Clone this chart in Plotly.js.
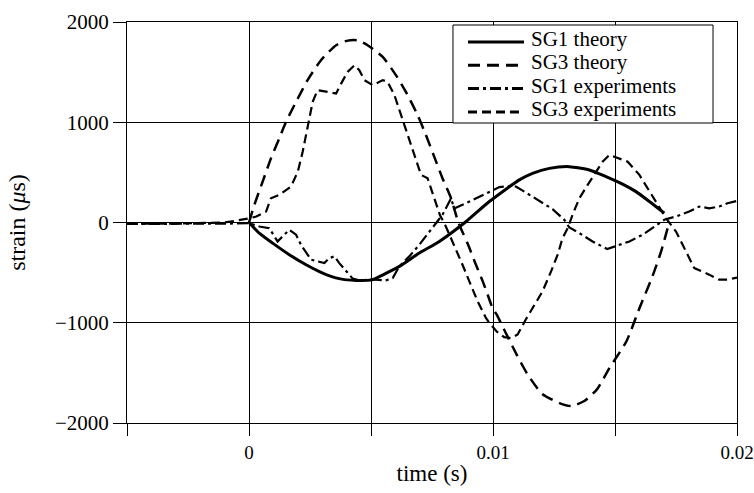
<!DOCTYPE html>
<html>
<head>
<meta charset="utf-8">
<script src="https://cdn.plot.ly/plotly-3.0.1.min.js"></script>
<style>html,body{margin:0;padding:0;background:#fff;}</style>
</head>
<body>
<div id="chart" style="width:754px;height:493px;"></div>
<script>
// ---- data (time in s, strain in microstrain) ----
const sg1TheoryT = [0, 0.00042, 0.00097, 0.00165, 0.00234, 0.00302, 0.0037, 0.00439, 0.00507, 0.00534, 0.00575, 0.00616, 0.00698, 0.0078, 0.0089, 0.00985, 0.01108, 0.01162, 0.01231, 0.01313, 0.01395, 0.01463, 0.01531, 0.01586, 0.01641, 0.01702];
const sg1TheoryV = [0, -106, -206, -321, -421, -504, -560, -578, -570, -540, -490, -438, -305, -189, 10, 209, 425, 490, 540, 557, 524, 458, 383, 308, 209, 93];

const sg3TheoryT = [0, 0.00022, 0.00056, 0.0009, 0.00124, 0.00152, 0.002, 0.0024, 0.00295, 0.00357, 0.004, 0.00445, 0.00486, 0.00548, 0.00602, 0.00643, 0.00691, 0.00725, 0.00759, 0.00793, 0.00828, 0.00858, 0.00896, 0.0093, 0.00958, 0.00978, 0.00998, 0.01014, 0.01055, 0.01096, 0.01141, 0.01202, 0.01272, 0.01321, 0.01374, 0.01427, 0.01477, 0.01547, 0.016, 0.01653, 0.0169, 0.01722];
const sg3TheoryV = [0, 176, 408, 640, 839, 1005, 1237, 1420, 1619, 1768, 1812, 1818, 1768, 1652, 1470, 1303, 1072, 873, 657, 441, 242, 0, -210, -421, -587, -719, -853, -915, -1114, -1313, -1512, -1711, -1801, -1831, -1781, -1662, -1453, -1184, -856, -540, -280, 0];

const sg1ExpT = [-0.005, -0.0045, -0.004, -0.0035, -0.003, -0.0025, -0.002, -0.0015, -0.001, -0.0005, 0, 0.00042, 0.00083, 0.00117, 0.00165, 0.00193, 0.00213, 0.00234, 0.00254, 0.00281, 0.00309, 0.00329, 0.0035, 0.0037, 0.00398, 0.00425, 0.00452, 0.00505, 0.00561, 0.00589, 0.00616, 0.00657, 0.00698, 0.00731, 0.00764, 0.00793, 0.00828, 0.00841, 0.00875, 0.0093, 0.00985, 0.01026, 0.01067, 0.01094, 0.01135, 0.0119, 0.01244, 0.01292, 0.01313, 0.01354, 0.01408, 0.01468, 0.01518, 0.01559, 0.01613, 0.01654, 0.01702, 0.0175, 0.01804, 0.01845, 0.01886, 0.01927, 0.01961, 0.02];
const sg1ExpV = [-15, -15, -12, -15, -13, -15, -12, -14, -10, -10, -7, -40, -57, -189, -73, -122, -222, -305, -371, -388, -405, -355, -338, -405, -488, -560, -577, -567, -577, -554, -438, -338, -222, -119, -10, 77, 242, 139, 176, 242, 308, 353, 363, 358, 298, 219, 134, 27, -50, -106, -189, -264, -222, -189, -122, -57, 27, 60, 109, 159, 142, 159, 192, 215];

const sg3ExpT = [-0.005, -0.0045, -0.004, -0.0035, -0.003, -0.0025, -0.002, -0.0015, -0.001, -0.0005, 0, 0.0003, 0.0007, 0.0009, 0.00124, 0.00172, 0.002, 0.0022, 0.00234, 0.00247, 0.00261, 0.00281, 0.00322, 0.00357, 0.00377, 0.00404, 0.00432, 0.00452, 0.00473, 0.00507, 0.00548, 0.00568, 0.00596, 0.00623, 0.0065, 0.00677, 0.00705, 0.00732, 0.00759, 0.00782, 0.00805, 0.00841, 0.00875, 0.00903, 0.00937, 0.00971, 0.00985, 0.01014, 0.01046, 0.01075, 0.01101, 0.01135, 0.01162, 0.01203, 0.01238, 0.01265, 0.01285, 0.01306, 0.01326, 0.01354, 0.01388, 0.01422, 0.01449, 0.01477, 0.01497, 0.01552, 0.016, 0.01641, 0.01682, 0.01709, 0.0175, 0.01791, 0.01825, 0.01886, 0.01927, 0.01961, 0.02];
const sg3ExpV = [-10, -12, -8, -12, -10, -8, -5, -5, 0, 20, 40, 60, 109, 242, 276, 358, 507, 706, 873, 1038, 1204, 1320, 1303, 1287, 1383, 1502, 1569, 1519, 1420, 1370, 1420, 1403, 1271, 1072, 873, 674, 475, 441, 242, 77, -30, -222, -421, -587, -786, -952, -1002, -1085, -1144, -1154, -1117, -965, -853, -687, -488, -321, -156, -57, 77, 242, 375, 507, 607, 674, 657, 607, 475, 308, 142, 43, -90, -289, -455, -520, -570, -570, -550];

const xTickVals = [-0.005, 0, 0.005, 0.01, 0.015, 0.02];
const xTickText = ['', '0', '', '0.01', '', '0.02'];
const yTickVals = [-2000, -1000, 0, 1000, 2000];

const seriesNames = ['SG1 theory', 'SG3 theory', 'SG1 experiments', 'SG3 experiments'];

// ---- styles ----
const FONT = 'Liberation Serif, Times New Roman, serif';
const dashes = ['solid', '12px,7px', '11px,4px,3px,4px', '9px,5px'];
const widths = [3, 2.5, 2.2, 2.2];
const seriesX = [sg1TheoryT, sg3TheoryT, sg1ExpT, sg3ExpT];
const seriesY = [sg1TheoryV, sg3TheoryV, sg1ExpV, sg3ExpV];
const shapesLine = ['spline', 'spline', 'linear', 'linear'];

const traces = seriesNames.map((n, i) => ({
  x: seriesX[i], y: seriesY[i], name: n, mode: 'lines', showlegend: false,
  line: {color: '#000', width: widths[i], dash: dashes[i], shape: shapesLine[i], smoothing: 0.6}
}));

// ---- hand-placed legend box (paper coordinates) ----
const legX0 = 0.5344, legX1 = 0.9607, legY0 = 0.7481, legY1 = 0.9925;
const sampleX0 = 0.5590, sampleX1 = 0.6508, textX = 0.6590;
const rowText = [0.9576, 0.8995, 0.8414, 0.7833];
const rowLine = [0.9501, 0.8920, 0.8339, 0.7758];

const shapes = [{type: 'rect', xref: 'paper', yref: 'paper', x0: legX0, x1: legX1, y0: legY0, y1: legY1,
  line: {color: '#000', width: 1}, fillcolor: '#fff', layer: 'above'}];
const annotations = [];
seriesNames.forEach((n, i) => {
  shapes.push({type: 'line', xref: 'paper', yref: 'paper', x0: sampleX0, x1: sampleX1, y0: rowLine[i], y1: rowLine[i],
    line: {color: '#000', width: 3, dash: dashes[i]}, layer: 'above'});
  annotations.push({xref: 'paper', yref: 'paper', x: textX, y: rowText[i], xanchor: 'left', yanchor: 'middle',
    text: n, showarrow: false, font: {family: FONT, size: 21, color: '#000'}});
});

const layout = {
  width: 754, height: 493,
  margin: {l: 127, r: 17, t: 22, b: 70, pad: 0},
  paper_bgcolor: '#fff', plot_bgcolor: '#fff',
  font: {family: FONT, color: '#000', size: 20},
  showlegend: false,
  shapes: shapes,
  annotations: annotations,
  xaxis: {
    range: [-0.005, 0.02], tickmode: 'array', tickvals: xTickVals, ticktext: xTickText,
    ticks: 'outside', ticklen: 12, tickcolor: '#000', tickwidth: 1,
    showgrid: true, gridcolor: '#000', gridwidth: 1, zeroline: false,
    showline: true, linecolor: '#000', linewidth: 1, mirror: true,
    ticklabeloverflow: 'allow',
    tickfont: {family: FONT, size: 19, color: '#000'},
    title: {text: 'time (s)', font: {family: FONT, size: 23, color: '#000'}, standoff: 3}
  },
  yaxis: {
    range: [-2000, 2000], tickmode: 'array', tickvals: yTickVals,
    ticks: 'outside', ticklen: 13, tickcolor: '#000', tickwidth: 1,
    showgrid: true, gridcolor: '#000', gridwidth: 1, zeroline: false,
    showline: true, linecolor: '#000', linewidth: 1, mirror: true,
    tickfont: {family: FONT, size: 21, color: '#000'},
    title: {text: 'strain (<i>μ</i>s)', font: {family: FONT, size: 24, color: '#000'}, standoff: 22}
  }
};

Plotly.newPlot('chart', traces, layout, {displayModeBar: false, staticPlot: true});
</script>
</body>
</html>
